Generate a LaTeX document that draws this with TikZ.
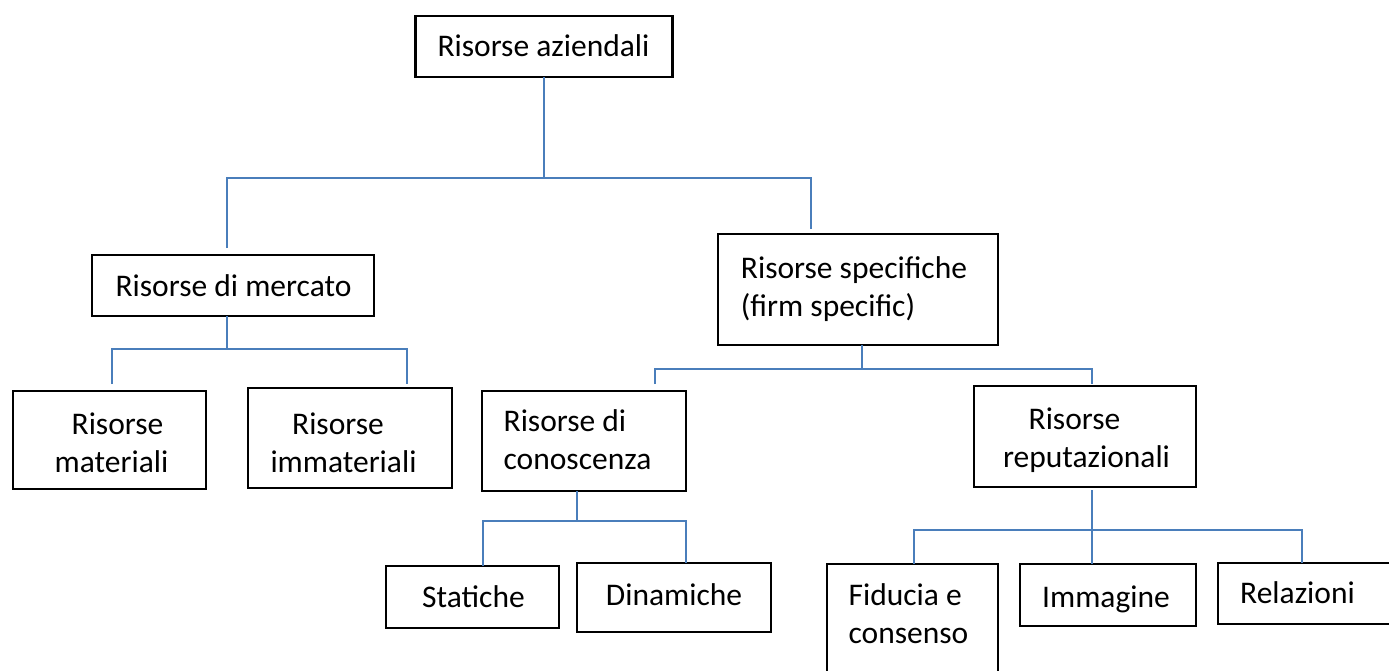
\documentclass[tikz,border=0pt]{standalone}
\usepackage{fontspec}
\setmainfont{Carlito}
\begin{document}
\begin{tikzpicture}[x=1pt,y=-1pt,
  box/.style={draw=black, line width=2.3pt, rectangle, inner sep=0pt, outer sep=0pt},
  txt/.style={inner sep=0pt, font=\fontsize{31.5pt}{38pt}\selectfont, text=black},
  link/.style={draw={rgb,255:red,74;green,126;blue,187}, line width=1.7pt}]
\useasboundingbox (0,0) rectangle (1389,670);

% frames
\node[box, minimum width=257pt, minimum height=61pt]  (az)  at (544,46.5) {};
\node[box, minimum width=282pt, minimum height=61pt]  (mer) at (233,285.5) {};
\node[box, minimum width=280pt, minimum height=111pt] (spe) at (858,289.5) {};
\node[box, minimum width=193pt, minimum height=98pt]  (mat) at (109.5,440) {};
\node[box, minimum width=204pt, minimum height=100pt] (imm) at (350,438) {};
\node[box, minimum width=204pt, minimum height=100pt] (con) at (584,441) {};
\node[box, minimum width=222pt, minimum height=101pt] (rep) at (1085,436.5) {};
\node[box, minimum width=173pt, minimum height=62pt]  (sta) at (472.5,597) {};
\node[box, minimum width=194pt, minimum height=69pt]  (din) at (674,597.5) {};
\node[box, minimum width=171pt, minimum height=136pt] (fid) at (912.5,632) {};
\node[box, minimum width=176pt, minimum height=62pt]  (img) at (1108,595) {};
\node[box, minimum width=182pt, minimum height=61pt]  (rel) at (1309,593.5) {};

% labels
\node[txt] (az-t)  at (543.5,46) {Risorse aziendali};
\node[txt] (mer-t) at (233.5,286) {Risorse di mercato};
\node[txt, align=left] (spe-t) at (854,289) {Risorse specifiche\\(firm specific)};
\node[txt, align=center] (mat-t) at (111.5,443) {\hspace*{12pt}Risorse\\materiali};
\node[txt, align=center] (imm-t) at (343.5,443) {Risorse\hspace*{11pt}\\immateriali};
\node[txt, align=left] (con-t) at (577.5,440) {Risorse di\\conoscenza};
\node[txt, align=center] (rep-t) at (1086.5,440) {Risorse\hspace*{24pt}\\reputazionali};
\node[txt] (sta-t) at (473.5,597) {Statiche};
\node[txt] (din-t) at (674,595) {Dinamiche};
\node[txt, align=left] (fid-t) at (908.5,613.5) {Fiducia e\\consenso};
\node[txt] (img-t) at (1106,599) {Immagine};
\node[txt] (rel-t) at (1297.5,593) {Relazioni};

% junction points of the connectors
\coordinate (b1w) at (227,178);  \coordinate (b1e) at (811,178);
\coordinate (e1w) at (227,248);  \coordinate (e1e) at (811,229);
\coordinate (b2m) at (227,349);
\coordinate (b2w) at (112,349);  \coordinate (b2e) at (407,349);
\coordinate (e2w) at (112,384);  \coordinate (e2e) at (407,384);
\coordinate (b3m) at (862,369);
\coordinate (b3w) at (655,369);  \coordinate (b3e) at (1092,369);
\coordinate (e3w) at (655,384);  \coordinate (e3e) at (1092,384);
\coordinate (b4m) at (577,521);
\coordinate (b4w) at (483,521);  \coordinate (b4e) at (686,521);
\coordinate (b5w) at (914,530);  \coordinate (b5e) at (1302,530);
\coordinate (s5m) at (1092,490);

% connectors
\draw[link] (az.south) -- (az.south |- b1w);
\draw[link] (e1w) -- (b1w) -- (b1e) -- (e1e);

\draw[link] (b2m |- mer.south) -- (b2m);
\draw[link] (e2w) -- (b2w) -- (b2e) -- (e2e);

\draw[link] (b3m |- spe.south) -- (b3m);
\draw[link] (e3w) -- (b3w) -- (b3e) -- (e3e);

\draw[link] (b4m |- con.south) -- (b4m);
\draw[link] (b4w |- sta.north) -- (b4w) -- (b4e) -- (b4e |- din.north);

\draw[link] (s5m) -- (s5m |- img.north);
\draw[link] (b5w |- fid.north) -- (b5w) -- (b5e) -- (b5e |- rel.north);
\end{tikzpicture}
\end{document}
